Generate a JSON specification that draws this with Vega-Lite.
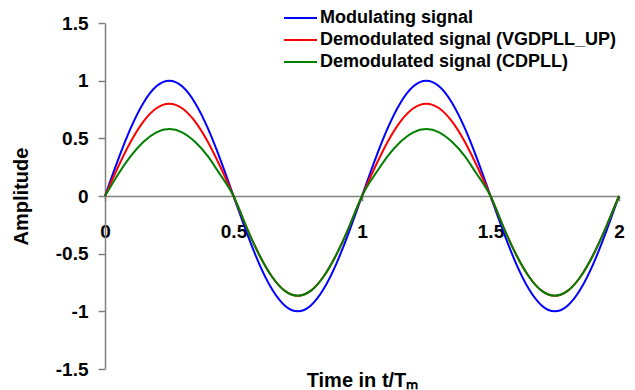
{
  "$schema": "https://vega.github.io/schema/vega-lite/v6.json",
  "width": 514,
  "height": 346,
  "autosize": {"type": "none"},
  "padding": {"left": 105, "top": 23, "right": 16, "bottom": 21},
  "background": "white",
  "config": {"view": {"stroke": null}, "font": "Liberation Sans"},
  "data": {"values": [
    {"t":0,"s":"Modulating signal","y":0},{"t":0.05,"s":"Modulating signal","y":0.309},{"t":0.1,"s":"Modulating signal","y":0.588},{"t":0.15,"s":"Modulating signal","y":0.809},{"t":0.2,"s":"Modulating signal","y":0.951},{"t":0.25,"s":"Modulating signal","y":1},{"t":0.3,"s":"Modulating signal","y":0.951},{"t":0.35,"s":"Modulating signal","y":0.809},{"t":0.4,"s":"Modulating signal","y":0.588},{"t":0.45,"s":"Modulating signal","y":0.309},{"t":0.5,"s":"Modulating signal","y":0},
    {"t":0.55,"s":"Modulating signal","y":-0.309},{"t":0.6,"s":"Modulating signal","y":-0.588},{"t":0.65,"s":"Modulating signal","y":-0.809},{"t":0.7,"s":"Modulating signal","y":-0.951},{"t":0.75,"s":"Modulating signal","y":-1},{"t":0.8,"s":"Modulating signal","y":-0.951},{"t":0.85,"s":"Modulating signal","y":-0.809},{"t":0.9,"s":"Modulating signal","y":-0.588},{"t":0.95,"s":"Modulating signal","y":-0.309},{"t":1,"s":"Modulating signal","y":0},
    {"t":1.05,"s":"Modulating signal","y":0.309},{"t":1.1,"s":"Modulating signal","y":0.588},{"t":1.15,"s":"Modulating signal","y":0.809},{"t":1.2,"s":"Modulating signal","y":0.951},{"t":1.25,"s":"Modulating signal","y":1},{"t":1.3,"s":"Modulating signal","y":0.951},{"t":1.35,"s":"Modulating signal","y":0.809},{"t":1.4,"s":"Modulating signal","y":0.588},{"t":1.45,"s":"Modulating signal","y":0.309},{"t":1.5,"s":"Modulating signal","y":0},
    {"t":1.55,"s":"Modulating signal","y":-0.309},{"t":1.6,"s":"Modulating signal","y":-0.588},{"t":1.65,"s":"Modulating signal","y":-0.809},{"t":1.7,"s":"Modulating signal","y":-0.951},{"t":1.75,"s":"Modulating signal","y":-1},{"t":1.8,"s":"Modulating signal","y":-0.951},{"t":1.85,"s":"Modulating signal","y":-0.809},{"t":1.9,"s":"Modulating signal","y":-0.588},{"t":1.95,"s":"Modulating signal","y":-0.309},{"t":2,"s":"Modulating signal","y":0},

    {"t":0,"s":"Demodulated signal (VGDPLL_UP)","y":0},{"t":0.05,"s":"Demodulated signal (VGDPLL_UP)","y":0.247},{"t":0.1,"s":"Demodulated signal (VGDPLL_UP)","y":0.47},{"t":0.15,"s":"Demodulated signal (VGDPLL_UP)","y":0.647},{"t":0.2,"s":"Demodulated signal (VGDPLL_UP)","y":0.761},{"t":0.25,"s":"Demodulated signal (VGDPLL_UP)","y":0.8},{"t":0.3,"s":"Demodulated signal (VGDPLL_UP)","y":0.761},{"t":0.35,"s":"Demodulated signal (VGDPLL_UP)","y":0.647},{"t":0.4,"s":"Demodulated signal (VGDPLL_UP)","y":0.47},{"t":0.45,"s":"Demodulated signal (VGDPLL_UP)","y":0.247},{"t":0.5,"s":"Demodulated signal (VGDPLL_UP)","y":0},
    {"t":0.55,"s":"Demodulated signal (VGDPLL_UP)","y":-0.267},{"t":0.6,"s":"Demodulated signal (VGDPLL_UP)","y":-0.509},{"t":0.65,"s":"Demodulated signal (VGDPLL_UP)","y":-0.7},{"t":0.7,"s":"Demodulated signal (VGDPLL_UP)","y":-0.823},{"t":0.75,"s":"Demodulated signal (VGDPLL_UP)","y":-0.865},{"t":0.8,"s":"Demodulated signal (VGDPLL_UP)","y":-0.823},{"t":0.85,"s":"Demodulated signal (VGDPLL_UP)","y":-0.7},{"t":0.9,"s":"Demodulated signal (VGDPLL_UP)","y":-0.509},{"t":0.95,"s":"Demodulated signal (VGDPLL_UP)","y":-0.267},{"t":1,"s":"Demodulated signal (VGDPLL_UP)","y":0},
    {"t":1.05,"s":"Demodulated signal (VGDPLL_UP)","y":0.247},{"t":1.1,"s":"Demodulated signal (VGDPLL_UP)","y":0.47},{"t":1.15,"s":"Demodulated signal (VGDPLL_UP)","y":0.647},{"t":1.2,"s":"Demodulated signal (VGDPLL_UP)","y":0.761},{"t":1.25,"s":"Demodulated signal (VGDPLL_UP)","y":0.8},{"t":1.3,"s":"Demodulated signal (VGDPLL_UP)","y":0.761},{"t":1.35,"s":"Demodulated signal (VGDPLL_UP)","y":0.647},{"t":1.4,"s":"Demodulated signal (VGDPLL_UP)","y":0.47},{"t":1.45,"s":"Demodulated signal (VGDPLL_UP)","y":0.247},{"t":1.5,"s":"Demodulated signal (VGDPLL_UP)","y":0},
    {"t":1.55,"s":"Demodulated signal (VGDPLL_UP)","y":-0.267},{"t":1.6,"s":"Demodulated signal (VGDPLL_UP)","y":-0.509},{"t":1.65,"s":"Demodulated signal (VGDPLL_UP)","y":-0.7},{"t":1.7,"s":"Demodulated signal (VGDPLL_UP)","y":-0.823},{"t":1.75,"s":"Demodulated signal (VGDPLL_UP)","y":-0.865},{"t":1.8,"s":"Demodulated signal (VGDPLL_UP)","y":-0.823},{"t":1.85,"s":"Demodulated signal (VGDPLL_UP)","y":-0.7},{"t":1.9,"s":"Demodulated signal (VGDPLL_UP)","y":-0.509},{"t":1.95,"s":"Demodulated signal (VGDPLL_UP)","y":-0.267},{"t":2,"s":"Demodulated signal (VGDPLL_UP)","y":0},

    {"t":0,"s":"Demodulated signal (CDPLL)","y":0},{"t":0.05,"s":"Demodulated signal (CDPLL)","y":0.185},{"t":0.1,"s":"Demodulated signal (CDPLL)","y":0.345},{"t":0.15,"s":"Demodulated signal (CDPLL)","y":0.47},{"t":0.2,"s":"Demodulated signal (CDPLL)","y":0.552},{"t":0.25,"s":"Demodulated signal (CDPLL)","y":0.58},{"t":0.3,"s":"Demodulated signal (CDPLL)","y":0.552},{"t":0.35,"s":"Demodulated signal (CDPLL)","y":0.47},{"t":0.4,"s":"Demodulated signal (CDPLL)","y":0.345},{"t":0.45,"s":"Demodulated signal (CDPLL)","y":0.18},{"t":0.5,"s":"Demodulated signal (CDPLL)","y":0},
    {"t":0.55,"s":"Demodulated signal (CDPLL)","y":-0.267},{"t":0.6,"s":"Demodulated signal (CDPLL)","y":-0.509},{"t":0.65,"s":"Demodulated signal (CDPLL)","y":-0.7},{"t":0.7,"s":"Demodulated signal (CDPLL)","y":-0.823},{"t":0.75,"s":"Demodulated signal (CDPLL)","y":-0.865},{"t":0.8,"s":"Demodulated signal (CDPLL)","y":-0.823},{"t":0.85,"s":"Demodulated signal (CDPLL)","y":-0.7},{"t":0.9,"s":"Demodulated signal (CDPLL)","y":-0.509},{"t":0.95,"s":"Demodulated signal (CDPLL)","y":-0.267},{"t":1,"s":"Demodulated signal (CDPLL)","y":0},
    {"t":1.05,"s":"Demodulated signal (CDPLL)","y":0.185},{"t":1.1,"s":"Demodulated signal (CDPLL)","y":0.345},{"t":1.15,"s":"Demodulated signal (CDPLL)","y":0.47},{"t":1.2,"s":"Demodulated signal (CDPLL)","y":0.552},{"t":1.25,"s":"Demodulated signal (CDPLL)","y":0.58},{"t":1.3,"s":"Demodulated signal (CDPLL)","y":0.552},{"t":1.35,"s":"Demodulated signal (CDPLL)","y":0.47},{"t":1.4,"s":"Demodulated signal (CDPLL)","y":0.345},{"t":1.45,"s":"Demodulated signal (CDPLL)","y":0.18},{"t":1.5,"s":"Demodulated signal (CDPLL)","y":0},
    {"t":1.55,"s":"Demodulated signal (CDPLL)","y":-0.267},{"t":1.6,"s":"Demodulated signal (CDPLL)","y":-0.509},{"t":1.65,"s":"Demodulated signal (CDPLL)","y":-0.7},{"t":1.7,"s":"Demodulated signal (CDPLL)","y":-0.823},{"t":1.75,"s":"Demodulated signal (CDPLL)","y":-0.865},{"t":1.8,"s":"Demodulated signal (CDPLL)","y":-0.823},{"t":1.85,"s":"Demodulated signal (CDPLL)","y":-0.7},{"t":1.9,"s":"Demodulated signal (CDPLL)","y":-0.509},{"t":1.95,"s":"Demodulated signal (CDPLL)","y":-0.267},{"t":2,"s":"Demodulated signal (CDPLL)","y":0}
  ]},
  "mark": {"type": "line", "interpolate": "natural", "strokeWidth": 2},
  "encoding": {
    "x": {
      "field": "t", "type": "quantitative",
      "scale": {"domain": [0, 2], "nice": false},
      "axis": {
        "values": [0, 0.5, 1, 1.5, 2], "offset": -173, "grid": false,
        "domainColor": "#808080", "domainWidth": 1.5,
        "tickColor": "#808080", "tickSize": 5, "tickWidth": 1.5,
        "labelPadding": 21, "labelFont": "Liberation Sans", "labelFontWeight": "bold", "labelFontSize": 19, "labelColor": "black",
        "labelExpr": "'' + datum.value", "labelFlush": false, "labelOverlap": false,
        "title": "Time in t/Tₘ", "titleFont": "Liberation Sans", "titleFontSize": 20, "titleFontWeight": "bold", "titleColor": "black",
        "titleY": 190, "titleBaseline": "alphabetic"
      }
    },
    "y": {
      "field": "y", "type": "quantitative",
      "scale": {"domain": [-1.5, 1.5], "nice": false},
      "axis": {
        "values": [-1.5, -1, -0.5, 0, 0.5, 1, 1.5], "grid": false,
        "domainColor": "#808080", "domainWidth": 1.5,
        "tickColor": "#808080", "tickSize": 7, "tickWidth": 1.5,
        "labelPadding": 10, "labelFont": "Liberation Sans", "labelFontWeight": "bold", "labelFontSize": 19, "labelColor": "black",
        "labelExpr": "'' + datum.value", "labelOverlap": false,
        "title": "Amplitude", "titleFont": "Liberation Sans", "titleFontSize": 20, "titleFontWeight": "bold", "titleColor": "black",
        "titlePadding": 24
      }
    },
    "color": {
      "field": "s", "type": "nominal",
      "scale": {"domain": ["Modulating signal", "Demodulated signal (VGDPLL_UP)", "Demodulated signal (CDPLL)"], "range": ["#0000FF", "#FF0000", "#008000"]},
      "legend": {
        "orient": "none", "legendX": 178, "legendY": -16, "title": null,
        "symbolType": "stroke", "symbolSize": 1089, "symbolStrokeWidth": 2,
        "labelFont": "Liberation Sans", "labelFontSize": 18, "labelFontWeight": "bold", "labelColor": "black",
        "labelOffset": 2, "rowPadding": 0, "clipHeight": 22, "padding": 0, "labelLimit": 400
      }
    }
  }
}
